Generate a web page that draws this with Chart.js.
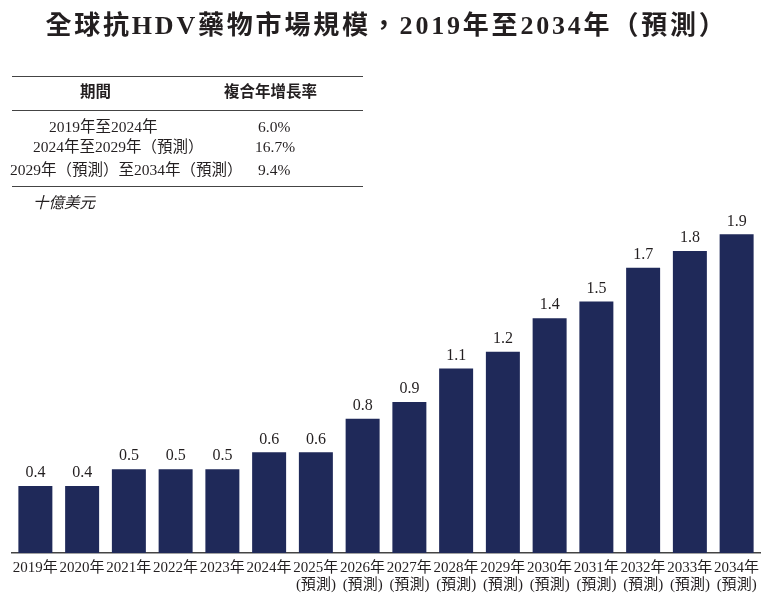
<!DOCTYPE html>
<html><head><meta charset="utf-8">
<script src="https://cdn.jsdelivr.net/npm/chart.js@4"></script>
<style>
html,body{margin:0;padding:0;background:#fff;width:773px;height:597px;overflow:hidden;}
.t{position:absolute;white-space:nowrap;color:#231f20;font-family:"Liberation Serif","Noto Sans CJK TC",serif;}
#title{left:0;width:773px;text-align:center;top:4px;font-size:26px;font-weight:bold;letter-spacing:2.8px;}
.line{position:absolute;left:12px;width:351px;height:0;border-top:1.5px solid #444;}
.cell{font-size:15.5px;line-height:18px;}
#c{position:absolute;left:0;top:0;}
</style></head><body>
<canvas id="c" width="773" height="597"></canvas>
<div id="title" class="t">全球抗HDV藥物市場規模，2019年至2034年（預測）</div>
<div class="line" style="top:76px"></div>
<div class="line" style="top:110px;border-top-width:1px"></div>
<div class="line" style="top:186px"></div>
<div class="t cell" style="left:80px;top:83px;font-weight:bold">期間</div>
<div class="t cell" style="left:224px;top:83px;font-weight:bold">複合年增長率</div>
<div class="t cell" style="left:49px;top:118px">2019年至2024年</div>
<div class="t cell" style="left:33px;top:138px">2024年至2029年（預測）</div>
<div class="t cell" style="left:10px;top:161px">2029年（預測）至2034年（預測）</div>
<div class="t cell" style="left:258px;top:118px">6.0%</div>
<div class="t cell" style="left:255px;top:138px">16.7%</div>
<div class="t cell" style="left:258px;top:161px">9.4%</div>
<div class="t cell" style="left:33px;top:194px;font-style:italic">十億美元</div>
<script>
const categories = ["2019年","2020年","2021年","2022年","2023年","2024年","2025年","2026年","2027年","2028年","2029年","2030年","2031年","2032年","2033年","2034年"];
const forecastFrom = 6;
const marketSize = [0.4,0.4,0.5,0.5,0.5,0.6,0.6,0.8,0.9,1.1,1.2,1.4,1.5,1.7,1.8,1.9];
const yMax = 2.2;

const labels = categories.map((c,i)=> i>=forecastFrom ? [c,"(預測)"] : c);
const FONT = '"Liberation Serif","Noto Sans CJK TC",serif';

const valueLabels = {
  id:'valueLabels',
  afterDatasetsDraw(chart){
    const ctx = chart.ctx;
    const meta = chart.getDatasetMeta(0);
    ctx.save();
    ctx.font = '16px ' + FONT;
    ctx.fillStyle = '#231f20';
    ctx.textAlign = 'center';
    ctx.textBaseline = 'bottom';
    meta.data.forEach((bar,i)=>{
      ctx.fillText(marketSize[i].toFixed(1), bar.x, bar.y - 5);
    });
    ctx.restore();
  }
};

new Chart(document.getElementById('c'), {
  type:'bar',
  data:{labels, datasets:[{data:marketSize, backgroundColor:'#1f2959', categoryPercentage:1, barPercentage:0.727}]},
  options:{
    responsive:false, animation:false,
    layout:{padding:{left:12,right:13,top:184,bottom:0}},
    plugins:{legend:{display:false}, tooltip:{enabled:false}},
    scales:{
      x:{
        grid:{display:false, drawTicks:false},
        border:{display:true, color:'#444', width:1.5},
        ticks:{autoSkip:false, maxRotation:0, minRotation:0, padding:6, color:'#231f20', font:{family:FONT, size:15, lineHeight:1.15}},
        afterFit(s){ s.height = 44; }
      },
      y:{display:false, min:0, max:yMax}
    }
  },
  plugins:[valueLabels]
});
</script>
</body></html>
